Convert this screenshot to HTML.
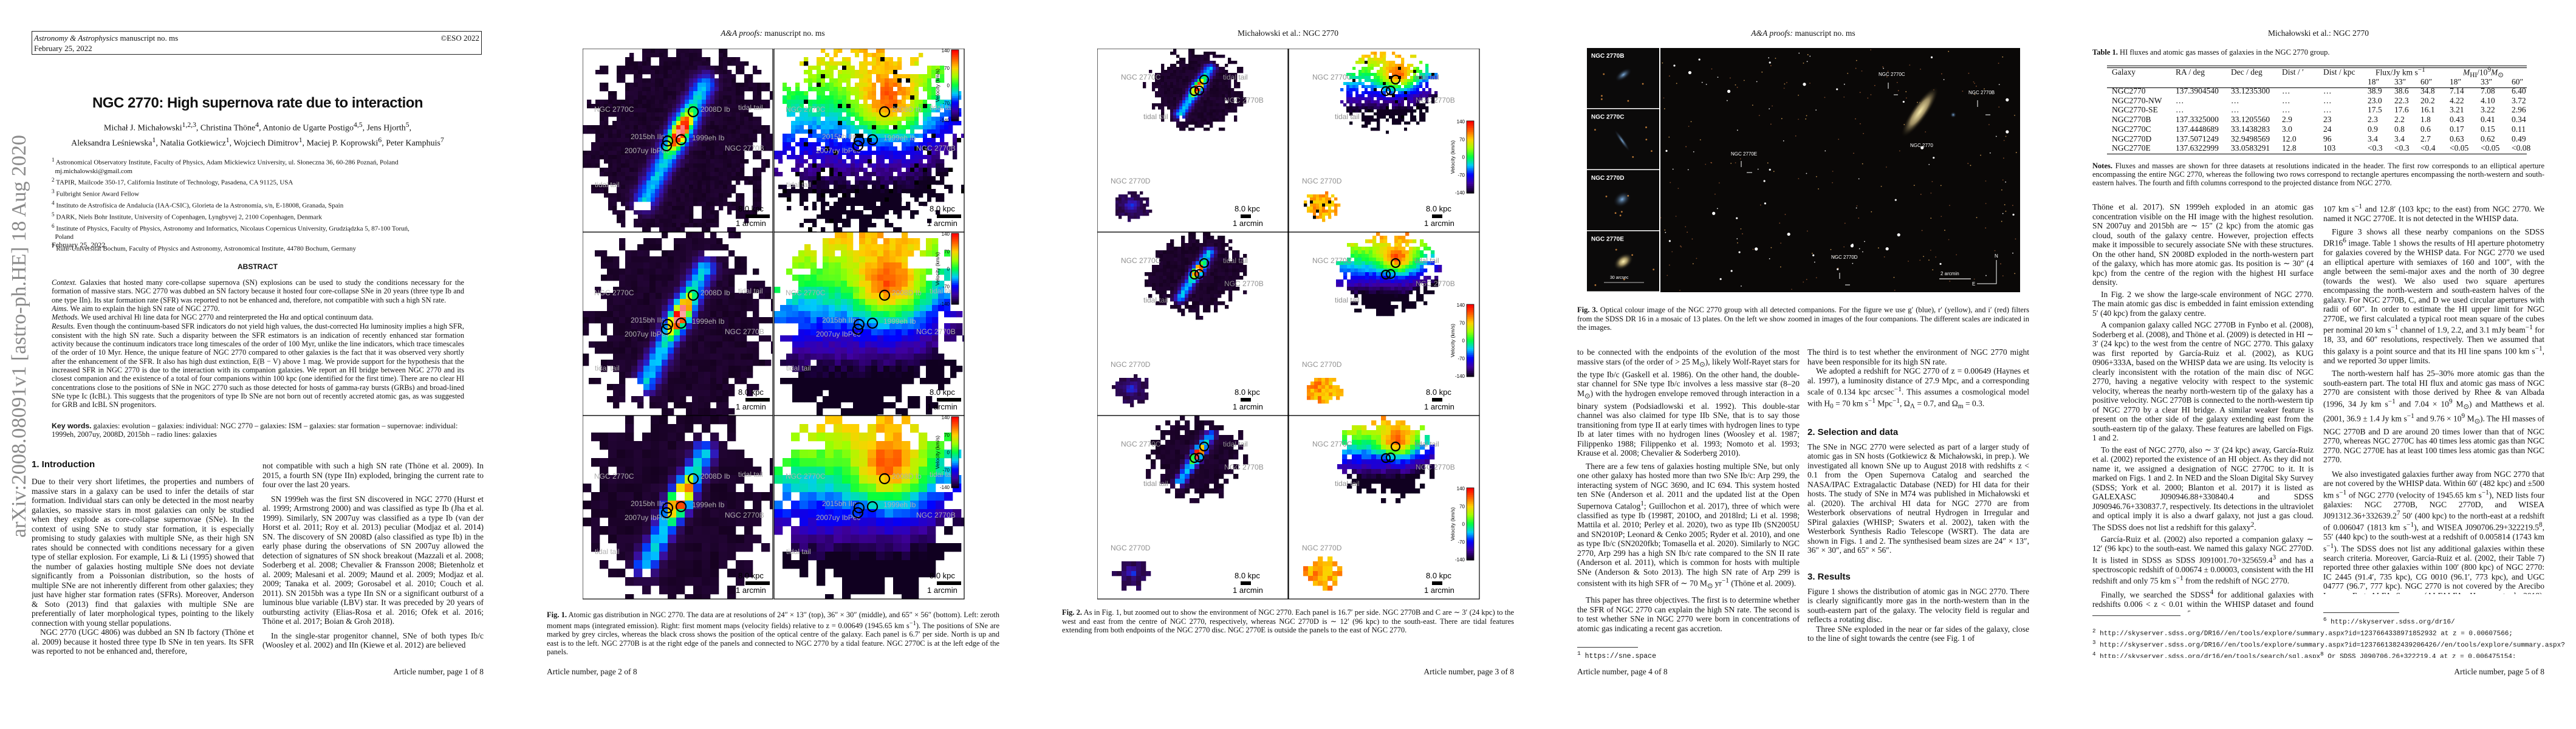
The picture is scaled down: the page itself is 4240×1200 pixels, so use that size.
<!DOCTYPE html>
<html><head><meta charset="utf-8">
<style>
html,body{margin:0;padding:0;background:#fff}
body{width:4240px;height:1200px;position:relative;overflow:hidden;font-family:"Liberation Serif",serif;color:#111}
.a{position:absolute}
.col{position:absolute;font:13.5px/15.5px "Liberation Serif",serif;text-align:justify;overflow:hidden;hyphens:auto}
.col p{margin:0;text-indent:14px}
.col p.ni{text-indent:0}
.col h2{font:bold 15px/20px "Liberation Sans",sans-serif;margin:10px 0 6px 0}
.hdr{position:absolute;font:13.5px "Liberation Serif",serif;top:47px;white-space:nowrap}
.foot{position:absolute;font:13.5px "Liberation Serif",serif;top:1098px;white-space:nowrap}
.cap{position:absolute;font:12.5px/14.5px "Liberation Serif",serif;text-align:justify;overflow:hidden}
svg text{font-family:"Liberation Sans",sans-serif}
</style></head><body>

<!-- PAGE 1 -->
<div class="a" style="left:-262px;top:570px;width:590px;height:40px;transform:rotate(-90deg);font:34px 'Liberation Serif',serif;color:#8a8a8a;white-space:nowrap;text-align:center">arXiv:2008.08091v1 [astro-ph.HE] 18 Aug 2020</div>
<div class="a" style="left:52px;top:51px;width:741px;height:39px;border:1.5px solid #222;font:13px/17px 'Liberation Serif',serif;padding:2px 3px;box-sizing:border-box">
<div><i>Astronomy &amp; Astrophysics</i> manuscript no. ms<span style="float:right">©ESO 2022</span></div><div>February 25, 2022</div></div>
<div class="a" style="left:52px;top:156px;width:744px;text-align:center;font:bold 24px 'Liberation Sans',sans-serif;letter-spacing:-0.5px">NGC 2770: High supernova rate due to interaction</div>
<div class="a" style="left:52px;top:196px;width:744px;text-align:center;font:14px/19px 'Liberation Serif',serif">Michał J. Michałowski<sup>1,2,3</sup>, Christina Thöne<sup>4</sup>, Antonio de Ugarte Postigo<sup>4,5</sup>, Jens Hjorth<sup>5</sup>,<br>Aleksandra Leśniewska<sup>1</sup>, Natalia Gotkiewicz<sup>1</sup>, Wojciech Dimitrov<sup>1</sup>, Maciej P. Koprowski<sup>6</sup>, Peter Kamphuis<sup>7</sup></div>
<div class="a" style="left:85px;top:256px;width:700px;font:11px/14.2px 'Liberation Serif',serif;white-space:nowrap">
<div><sup>1</sup> Astronomical Observatory Institute, Faculty of Physics, Adam Mickiewicz University, ul. Słoneczna 36, 60-286 Poznań, Poland</div>
<div>&nbsp;&nbsp;mj.michalowski@gmail.com</div>
<div><sup>2</sup> TAPIR, Mailcode 350-17, California Institute of Technology, Pasadena, CA 91125, USA</div>
<div><sup>3</sup> Fulbright Senior Award Fellow</div>
<div><sup>4</sup> Instituto de Astrofísica de Andalucía (IAA-CSIC), Glorieta de la Astronomía, s/n, E-18008, Granada, Spain</div>
<div><sup>5</sup> DARK, Niels Bohr Institute, University of Copenhagen, Lyngbyvej 2, 2100 Copenhagen, Denmark</div>
<div><sup>6</sup> Institute of Physics, Faculty of Physics, Astronomy and Informatics, Nicolaus Copernicus University, Grudziądzka 5, 87-100 Toruń,</div>
<div>&nbsp;&nbsp;Poland</div>
<div><sup>7</sup> Ruhr-Universität Bochum, Faculty of Physics and Astronomy, Astronomical Institute, 44780 Bochum, Germany</div>
</div>
<div class="a" style="left:85px;top:396px;font:12px 'Liberation Serif',serif">February 25, 2022</div>
<div class="a" style="left:52px;top:432px;width:744px;text-align:center;font:bold 12px 'Liberation Sans',sans-serif">ABSTRACT</div>
<div class="a" style="left:85px;top:458px;width:679px;height:226px;overflow:hidden;font:12.3px/14.3px 'Liberation Serif',serif;text-align:justify">
<i>Context.</i> Galaxies that hosted many core-collapse supernova (SN) explosions can be used to study the conditions necessary for the formation of massive stars. NGC 2770 was dubbed an SN factory because it hosted four core-collapse SNe in 20 years (three type Ib and one type IIn). Its star formation rate (SFR) was reported to not be enhanced and, therefore, not compatible with such a high SN rate.<br>
<i>Aims.</i> We aim to explain the high SN rate of NGC 2770.<br>
<i>Methods.</i> We used archival H<span style="font-size:9px">I</span> line data for NGC 2770 and reinterpreted the Hα and optical continuum data.<br>
<i>Results.</i> Even though the continuum-based SFR indicators do not yield high values, the dust-corrected Hα luminosity implies a high SFR, consistent with the high SN rate. Such a disparity between the SFR estimators is an indication of recently enhanced star formation activity because the continuum indicators trace long timescales of the order of 100 Myr, unlike the line indicators, which trace timescales of the order of 10 Myr. Hence, the unique feature of NGC 2770 compared to other galaxies is the fact that it was observed very shortly after the enhancement of the SFR. It also has high dust extinction, E(B − V) above 1 mag. We provide support for the hypothesis that the increased SFR in NGC 2770 is due to the interaction with its companion galaxies. We report an HI bridge between NGC 2770 and its closest companion and the existence of a total of four companions within 100 kpc (one identified for the first time). There are no clear HI concentrations close to the positions of SNe in NGC 2770 such as those detected for hosts of gamma-ray bursts (GRBs) and broad-lined SNe type Ic (IcBL). This suggests that the progenitors of type Ib SNe are not born out of recently accreted atomic gas, as was suggested for GRB and IcBL SN progenitors.</div>
<div class="a" style="left:85px;top:694px;width:679px;font:12.3px/14.3px 'Liberation Serif',serif"><b style="font-family:'Liberation Sans',sans-serif">Key words.</b> galaxies: evolution – galaxies: individual: NGC 2770 – galaxies: ISM – galaxies: star formation – supernovae: individual: 1999eh, 2007uy, 2008D, 2015bh – radio lines: galaxies</div>
<div class="a" style="left:52px;top:756px;font:bold 15px 'Liberation Sans',sans-serif">1. Introduction</div>
<div class="col" style="left:52px;top:785px;width:366px;height:294px"><p class="ni">Due to their very short lifetimes, the properties and numbers of massive stars in a galaxy can be used to infer the details of star formation. Individual stars can only be detected in the most nearby galaxies, so massive stars in most galaxies can only be studied when they explode as core-collapse supernovae (SNe). In the context of using SNe to study star formation, it is especially promising to study galaxies with multiple SNe, as their high SN rates should be connected with conditions necessary for a given type of stellar explosion. For example, Li &amp; Li (1995) showed that the number of galaxies hosting multiple SNe does not deviate significantly from a Poissonian distribution, so the hosts of multiple SNe are not inherently different from other galaxies; they just have higher star formation rates (SFRs). Moreover, Anderson &amp; Soto (2013) find that galaxies with multiple SNe are preferentially of later morphological types, pointing to the likely connection with young stellar populations.</p><p>NGC 2770 (UGC 4806) was dubbed an SN Ib factory (Thöne et al. 2009) because it hosted three type Ib SNe in ten years. Its SFR was reported to not be enhanced and, therefore,</p></div>
<div class="col" style="left:432px;top:759px;width:364px;height:320px"><p class="ni">not compatible with such a high SN rate (Thöne et al. 2009). In 2015, a fourth SN (type IIn) exploded, bringing the current rate to four over the last 20 years.</p><p style="margin-top:8px">SN 1999eh was the first SN discovered in NGC 2770 (Hurst et al. 1999; Armstrong 2000) and was classified as type Ib (Jha et al. 1999). Similarly, SN 2007uy was classified as a type Ib (van der Horst et al. 2011; Roy et al. 2013) peculiar (Modjaz et al. 2014) SN. The discovery of SN 2008D (also classified as type Ib) in the early phase during the observations of SN 2007uy allowed the detection of signatures of SN shock breakout (Mazzali et al. 2008; Soderberg et al. 2008; Chevalier &amp; Fransson 2008; Bietenholz et al. 2009; Malesani et al. 2009; Maund et al. 2009; Modjaz et al. 2009; Tanaka et al. 2009; Gorosabel et al. 2010; Couch et al. 2011). SN 2015bh was a type IIn SN or a significant outburst of a luminous blue variable (LBV) star. It was preceded by 20 years of outbursting activity (Elias-Rosa et al. 2016; Ofek et al. 2016; Thöne et al. 2017; Boian &amp; Groh 2018).</p><p style="margin-top:8px">In the single-star progenitor channel, SNe of both types Ib/c (Woosley et al. 2002) and IIn (Kiewe et al. 2012) are believed</p></div>
<div class="foot" style="left:596px;width:200px;text-align:right">Article number, page 1 of 8</div>

<!-- PAGE 2 -->
<div class="hdr" style="left:1072px;width:400px;text-align:center"><i>A&amp;A proofs:</i> manuscript no. ms</div>
<svg class="a" id="fig1" style="left:959px;top:80px" width="629" height="908"></svg>
<div class="cap" style="left:900px;top:1005px;width:745px;height:76px"><b>Fig. 1.</b> Atomic gas distribution in NGC 2770. The data are at resolutions of 24″ × 13″ (top), 36″ × 30″ (middle), and 65″ × 56″ (bottom). Left: zeroth moment maps (integrated emission). Right: first moment maps (velocity fields) relative to z = 0.00649 (1945.65 km s<sup>−1</sup>). The positions of SNe are marked by grey circles, whereas the black cross shows the position of the optical centre of the galaxy. Each panel is 6.7′ per side. North is up and east is to the left. NGC 2770B is at the right edge of the panels and connected to NGC 2770 by a tidal feature. NGC 2770C is at the left edge of the panels.</div>
<div class="foot" style="left:900px">Article number, page 2 of 8</div>

<!-- PAGE 3 -->
<div class="hdr" style="left:1920px;width:400px;text-align:center">Michałowski et al.: NGC 2770</div>
<svg class="a" id="fig2" style="left:1806px;top:80px" width="630" height="908"></svg>
<div class="cap" style="left:1748px;top:1001px;width:744px;height:48px"><b>Fig. 2.</b> As in Fig. 1, but zoomed out to show the environment of NGC 2770. Each panel is 16.7′ per side. NGC 2770B and C are ∼ 3′ (24 kpc) to the west and east from the centre of NGC 2770, respectively, whereas NGC 2770D is ∼ 12′ (96 kpc) to the south-east. There are tidal features extending from both endpoints of the NGC 2770 disc. NGC 2770E is outside the panels to the east of NGC 2770.</div>
<div class="foot" style="left:2292px;width:200px;text-align:right">Article number, page 3 of 8</div>

<!-- PAGE 4 -->
<div class="hdr" style="left:2768px;width:400px;text-align:center"><i>A&amp;A proofs:</i> manuscript no. ms</div>
<svg class="a" id="fig3" style="left:2612px;top:79px" width="713" height="402"></svg>
<div class="cap" style="left:2596px;top:503px;width:744px;height:46px"><b>Fig. 3.</b> Optical colour image of the NGC 2770 group with all detected companions. For the figure we use g′ (blue), r′ (yellow), and i′ (red) filters from the SDSS DR 16 in a mosaic of 13 plates. On the left we show zoomed in images of the four companions. The different scales are indicated in the images.</div>
<div class="col" style="left:2596px;top:572px;width:366px;height:478px"><p class="ni">to be connected with the endpoints of the evolution of the most massive stars (of the order of &gt; 25 M<sub>⊙</sub>), likely Wolf-Rayet stars for the type Ib/c (Gaskell et al. 1986). On the other hand, the double-star channel for SNe type Ib/c involves a less massive star (8–20 M<sub>⊙</sub>) with the hydrogen envelope removed through interaction in a binary system (Podsiadlowski et al. 1992). This double-star channel was also claimed for type IIb SNe, that is to say those transitioning from type II at early times with hydrogen lines to type Ib at later times with no hydrogen lines (Woosley et al. 1987; Filippenko 1988; Filippenko et al. 1993; Nomoto et al. 1993; Krause et al. 2008; Chevalier &amp; Soderberg 2010).</p><p style="margin-top:6px">There are a few tens of galaxies hosting multiple SNe, but only one other galaxy has hosted more than two SNe Ib/c: Arp 299, the interacting system of NGC 3690, and IC 694. This system hosted ten SNe (Anderson et al. 2011 and the updated list at the Open Supernova Catalog<sup>1</sup>; Guillochon et al. 2017), three of which were classified as type Ib (1998T, 2010O, and 2018lrd; Li et al. 1998; Mattila et al. 2010; Perley et al. 2020), two as type IIb (SN2005U and SN2010P; Leonard &amp; Cenko 2005; Ryder et al. 2010), and one as type Ib/c (SN2020fkb; Tomasella et al. 2020). Similarly to NGC 2770, Arp 299 has a high SN Ib/c rate compared to the SN II rate (Anderson et al. 2011), which is common for hosts with multiple SNe (Anderson &amp; Soto 2013). The high SN rate of Arp 299 is consistent with its high SFR of ∼ 70 M<sub>⊙</sub> yr<sup>−1</sup> (Thöne et al. 2009).</p><p style="margin-top:6px">This paper has three objectives. The first is to determine whether the SFR of NGC 2770 can explain the high SN rate. The second is to test whether SNe in NGC 2770 were born in concentrations of atomic gas indicating a recent gas accretion.</p></div>
<div class="a" style="left:2596px;top:1065px;width:100px;border-top:1px solid #333"></div>
<div class="a" style="left:2596px;top:1070px;font:11.5px 'Liberation Mono',monospace"><sup>1</sup> https://sne.space</div>
<div class="col" style="left:2975px;top:572px;width:365px;height:508px"><p class="ni">The third is to test whether the environment of NGC 2770 might have been responsible for its high SN rate.</p><p>We adopted a redshift for NGC 2770 of z = 0.00649 (Haynes et al. 1997), a luminosity distance of 27.9 Mpc, and a corresponding scale of 0.134 kpc arcsec<sup>−1</sup>. This assumes a cosmological model with H<sub>0</sub> = 70 km s<sup>−1</sup> Mpc<sup>−1</sup>, Ω<sub>Λ</sub> = 0.7, and Ω<sub>m</sub> = 0.3.</p><h2 style="margin-top:24px">2. Selection and data</h2><p class="ni">The SNe in NGC 2770 were selected as part of a larger study of atomic gas in SN hosts (Gotkiewicz &amp; Michałowski, in prep.). We investigated all known SNe up to August 2018 with redshifts z &lt; 0.1 from the Open Supernova Catalog and searched the NASA/IPAC Extragalactic Database (NED) for HI data for their hosts. The study of SNe in M74 was published in Michałowski et al. (2020). The archival HI data for NGC 2770 are from Westerbork observations of neutral Hydrogen in Irregular and SPiral galaxies (WHISP; Swaters et al. 2002), taken with the Westerbork Synthesis Radio Telescope (WSRT). The data are shown in Figs. 1 and 2. The synthesised beam sizes are 24″ × 13″, 36″ × 30″, and 65″ × 56″.</p><h2 style="margin-top:26px">3. Results</h2><p class="ni">Figure 1 shows the distribution of atomic gas in NGC 2770. There is clearly significantly more gas in the north-western than in the south-eastern part of the galaxy. The velocity field is regular and reflects a rotating disc.</p><p>Three SNe exploded in the near or far sides of the galaxy, close to the line of sight towards the centre (see Fig. 1 of</p></div>
<div class="foot" style="left:2596px">Article number, page 4 of 8</div>

<!-- PAGE 5 -->
<div class="hdr" style="left:3616px;width:400px;text-align:center">Michałowski et al.: NGC 2770</div>
<div class="a" style="left:3444px;top:79px;font:12.5px 'Liberation Serif',serif"><b>Table 1.</b> HI fluxes and atomic gas masses of galaxies in the NGC 2770 group.</div>
<div class="a" id="tbl" style="left:3468px;top:108px;width:691px;height:147px;font:13.5px 'Liberation Serif',serif"></div>
<div class="cap" style="left:3444px;top:266px;width:744px;height:44px;line-height:14px"><b>Notes.</b> Fluxes and masses are shown for three datasets at resolutions indicated in the header. The first row corresponds to an elliptical aperture encompassing the entire NGC 2770, whereas the following two rows correspond to rectangle apertures encompassing the north-western and south-eastern halves. The fourth and fifth columns correspond to the projected distance from NGC 2770.</div>
<div class="col" style="left:3444px;top:333px;width:364px;height:675px"><p class="ni">Thöne et al. 2017). SN 1999eh exploded in an atomic gas concentration visible on the HI image with the highest resolution. SN 2007uy and 2015bh are ∼ 15″ (2 kpc) from the atomic gas cloud, south of the galaxy centre. However, projection effects make it impossible to securely associate SNe with these structures. On the other hand, SN 2008D exploded in the north-western part of the galaxy, which has more atomic gas. Its position is ∼ 30″ (4 kpc) from the centre of the region with the highest HI surface density.</p><p style="margin-top:4px">In Fig. 2 we show the large-scale environment of NGC 2770. The main atomic gas disc is embedded in faint emission extending 5′ (40 kpc) from the galaxy centre.</p><p style="margin-top:4px">A companion galaxy called NGC 2770B in Fynbo et al. (2008), Soderberg et al. (2008), and Thöne et al. (2009) is detected in HI ∼ 3′ (24 kpc) to the west from the centre of NGC 2770. This galaxy was first reported by García-Ruiz et al. (2002), as KUG 0906+333A, based on the WHISP data we are using. Its velocity is clearly inconsistent with the rotation of the main disc of NGC 2770, having a negative velocity with respect to the systemic velocity, whereas the nearby north-western tip of the galaxy has a positive velocity. NGC 2770B is connected to the north-western tip of NGC 2770 by a clear HI bridge. A similar weaker feature is present on the other side of the galaxy extending east from the south-eastern tip of the galaxy. These features are labelled on Figs. 1 and 2.</p><p style="margin-top:4px">To the east of NGC 2770, also ∼ 3′ (24 kpc) away, García-Ruiz et al. (2002) reported the existence of an HI object. As they did not name it, we assigned a designation of NGC 2770C to it. It is marked on Figs. 1 and 2. In NED and the Sloan Digital Sky Survey (SDSS; York et al. 2000; Blanton et al. 2017) it is listed as GALEXASC J090946.88+330840.4 and SDSS J090946.76+330837.7, respectively. Its detections in the ultraviolet and optical imply it is also a dwarf galaxy, not just a gas cloud. The SDSS does not list a redshift for this galaxy<sup>2</sup>.</p><p style="margin-top:4px">García-Ruiz et al. (2002) also reported a companion galaxy ∼ 12′ (96 kpc) to the south-east. We named this galaxy NGC 2770D. It is listed in SDSS as SDSS J091001.70+325659.4<sup>3</sup> and has a spectroscopic redshift of 0.00674 ± 0.00003, consistent with the HI redshift and only 75 km s<sup>−1</sup> from the redshift of NGC 2770.</p><p style="margin-top:4px">Finally, we searched the SDSS<sup>4</sup> for additional galaxies with redshifts 0.006 &lt; z &lt; 0.01 within the WHISP dataset and found SDSS J091031.75+330329.9<sup>5</sup> at z = 0.00684829. It is</p></div>
<div class="col" style="left:3824px;top:333px;width:364px;height:645px"><p class="ni">107 km s<sup>−1</sup> and 12.8′ (103 kpc; to the east) from NGC 2770. We named it NGC 2770E. It is not detected in the WHISP data.</p><p style="margin-top:6px">Figure 3 shows all these nearby companions on the SDSS DR16<sup>6</sup> image. Table 1 shows the results of HI aperture photometry for galaxies covered by the WHISP data. For NGC 2770 we used an elliptical aperture with semiaxes of 160 and 100″, with the angle between the semi-major axes and the north of 30 degree (towards the west). We also used two square apertures encompassing the north-western and south-eastern halves of the galaxy. For NGC 2770B, C, and D we used circular apertures with radii of 60″. In order to estimate the HI upper limit for NGC 2770E, we first calculated a typical root mean square of the cubes per nominal 20 km s<sup>−1</sup> channel of 1.9, 2.2, and 3.1 mJy beam<sup>−1</sup> for 18, 33, and 60″ resolutions, respectively. Then we assumed that this galaxy is a point source and that its HI line spans 100 km s<sup>−1</sup>, and we reported 3σ upper limits.</p><p style="margin-top:6px">The north-western half has 25–30% more atomic gas than the south-eastern part. The total HI flux and atomic gas mass of NGC 2770 are consistent with those derived by Rhee &amp; van Albada (1996, 34 Jy km s<sup>−1</sup> and 7.04 × 10<sup>9</sup> M<sub>⊙</sub>) and Matthews et al. (2001, 36.9 ± 1.4 Jy km s<sup>−1</sup> and 9.76 × 10<sup>9</sup> M<sub>⊙</sub>). The HI masses of NGC 2770B and D are around 20 times lower than that of NGC 2770, whereas NGC 2770C has 40 times less atomic gas than NGC 2770. NGC 2770E has at least 100 times less atomic gas than NGC 2770.</p><p style="margin-top:8px">We also investigated galaxies further away from NGC 2770 that are not covered by the WHISP data. Within 60′ (482 kpc) and ±500 km s<sup>−1</sup> of NGC 2770 (velocity of 1945.65 km s<sup>−1</sup>), NED lists four galaxies: NGC 2770B, NGC 2770D, and WISEA J091312.36+332639.2<sup>7</sup> 50′ (400 kpc) to the north-east at a redshift of 0.006047 (1813 km s<sup>−1</sup>), and WISEA J090706.29+322219.5<sup>8</sup>, 55′ (440 kpc) to the south-west at a redshift of 0.005814 (1743 km s<sup>−1</sup>). The SDSS does not list any additional galaxies within these search criteria. Moreover, García-Ruiz et al. (2002, their Table 7) reported three other galaxies within 100′ (800 kpc) of NGC 2770: IC 2445 (91.4′, 735 kpc), CG 0010 (96.1′, 773 kpc), and UGC 04777 (96.7′, 777 kpc). NGC 2770 is not covered by the Arecibo Legacy Fast ALFA Survey (ALFALFA; Haynes et al. 2018), prohibiting a systematic HI search of companions.</p></div>
<div class="a" style="left:3444px;top:1013px;width:145px;border-top:1px solid #333"></div>
<div class="a" style="left:3824px;top:1008px;width:125px;border-top:1px solid #333"></div>
<div class="a" style="left:3444px;top:1013px;width:800px;font:11px/14.2px 'Liberation Mono',monospace;white-space:nowrap;overflow:hidden;height:70px">
<div style="padding-left:380px"><sup>6</sup> http://skyserver.sdss.org/dr16/</div>
<div><sup>2</sup> http://skyserver.sdss.org/DR16//en/tools/explore/summary.aspx?id=1237664338971852932 at z = 0.00607566;</div>
<div><sup>3</sup> http://skyserver.sdss.org/DR16//en/tools/explore/summary.aspx?id=1237661382439206426//en/tools/explore/summary.aspx?</div>
<div><sup>4</sup> http://skyserver.sdss.org/dr16/en/tools/search/sql.aspx<sup>8</sup> Or SDSS J090706.26+322219.4 at z = 0.006475154;</div>
<div><sup>5</sup> http://skyserver.sdss.org/DR16//en/tools/explore/summary.aspx?id=1237664868921163956//en/tools/explore/summary.aspx?</div>
</div>
<div class="foot" style="left:3988px;width:200px;text-align:right">Article number, page 5 of 8</div>

<script>
var SVGNS='http://www.w3.org/2000/svg';
var galaxies=['NGC2770','NGC2770-NW','NGC2770-SE','NGC2770B','NGC2770C','NGC2770D','NGC2770E'];
var raVals=['137.3904540','…','…','137.3325000','137.4448689','137.5071249','137.6322999'];
var decVals=['33.1235300','…','…','33.1205560','33.1438283','32.9498569','33.0583291'];
var distArc=['…','…','…','2.9','3.0','12.0','12.8'];
var distKpc=['…','…','…','23','24','96','103'];
var flux18=['38.9','23.0','17.5','2.3','0.9','3.4','&lt;0.3'];
var flux33=['38.6','22.3','17.6','2.2','0.8','3.4','&lt;0.3'];
var flux60=['34.8','20.2','16.1','1.8','0.6','2.7','&lt;0.4'];
var mass18=['7.14','4.22','3.21','0.43','0.17','0.63','&lt;0.05'];
var mass33=['7.08','4.10','3.22','0.41','0.15','0.62','&lt;0.05'];
var mass60=['6.40','3.72','2.96','0.34','0.11','0.49','&lt;0.08'];
var velTicks=['140','70','0','-70','-140'];

function hn(i,j,s){var x=Math.sin(i*127.1+j*311.7+s*74.7)*43758.5453;return x-Math.floor(x);}
function hexC(hs){return [parseInt(hs.substr(1,2),16),parseInt(hs.substr(3,2),16),parseInt(hs.substr(5,2),16)];}
function lerpC(stops,t){
  if(!(t>=0))t=0; if(t>1)t=1;
  for(var k=1;k<stops.length;k++){
    if(t<=stops[k][0]){var a=stops[k-1],b=stops[k];var f=(t-a[0])/(b[0]-a[0]);var ca=hexC(a[1]),cb=hexC(b[1]);
      return 'rgb('+Math.round(ca[0]+(cb[0]-ca[0])*f)+','+Math.round(ca[1]+(cb[1]-ca[1])*f)+','+Math.round(ca[2]+(cb[2]-ca[2])*f)+')';}
  }
  return stops[stops.length-1][1];
}
var cmapI=[[0,'#12001a'],[0.12,'#28063e'],[0.28,'#3a10a8'],[0.42,'#0040ff'],[0.55,'#00c8ff'],[0.66,'#00ff50'],[0.76,'#f0ff00'],[0.86,'#ff6000'],[0.94,'#ff0000'],[1,'#ffffff']];
var cmapV=[[0,'#100020'],[0.125,'#4000a0'],[0.25,'#0000ff'],[0.375,'#00c8ff'],[0.5,'#00ff40'],[0.625,'#a0ff00'],[0.75,'#ffd000'],[0.875,'#ff6000'],[1,'#ff0000']];
function mk(tag,attrs,parent){var e=document.createElementNS(SVGNS,tag);for(var k in attrs){e.setAttribute(k,attrs[k]);}parent.appendChild(e);return e;}
function tx(parent,x,y,s,size,fill,extra){var at={x:x,y:y,'font-size':size,fill:fill};if(extra){for(var k in extra)at[k]=extra[k];}var t=mk('text',at,parent);t.textContent=s;return t;}

function drawMap(g,W,H,cell,kind,blobs,speckle,seed){
  var nx=Math.ceil(W/cell),ny=Math.ceil(H/cell);
  for(var j=0;j<ny;j++){for(var i=0;i<nx;i++){
    var u=(i+0.5)*cell/W,v=(j+0.5)*cell/H,best=null;
    for(var q=0;q<blobs.length;q++){
      var bl=blobs[q];
      var up0=(u-bl.cx)/bl.sx+0.5,vp0=(v-bl.cy)/bl.sy+0.5;
      var E=Math.pow((up0-0.5)/0.5,2)+Math.pow((vp0-0.5)/0.55,2);
      var nm=hn(Math.floor(u*W/bl.block),Math.floor(v*H/bl.block),seed+bl.sid);
      var keep=E<0.45||(E<1.25&&nm>(E-0.45)/0.8*0.95);
      if(keep)best={b:bl,up:up0,vp:vp0};
    }
    if(!best)continue;
    var n=hn(i,j,seed*3+7),b=best.b,up=best.up,vp=best.vp,col;
    if(kind==='I'){
      var I;
      if(b.dwarf){I=0.1+0.08*n+0.25*Math.exp(-(Math.pow(up-0.5,2)+Math.pow(vp-0.45,2))/0.03);}
      else{
        var P1x=0.64,P1y=0.2,dx=0.33-0.64,dy=0.82-0.2,L2=dx*dx+dy*dy;
        var t=((up-P1x)*dx+(vp-P1y)*dy)/L2;var px=P1x+t*dx,py=P1y+t*dy;
        var d=Math.sqrt((up-px)*(up-px)+(vp-py)*(vp-py));
        var taper=t<0?Math.exp(-Math.pow(t/0.1,2)):(t>1?Math.exp(-Math.pow((t-1)/0.1,2)):1);
        var peak=0.5+0.45*Math.exp(-Math.pow(t-0.4,2)/(2*0.12*0.12));
        I=0.02+0.07*n+peak*Math.exp(-d*d/(2*0.045*0.045))*taper;
      }
      col=lerpC(cmapI,I);
    }else{
      var vel;
      if(b.dwarf){vel=0.55+0.3*(n-0.3);}
      else{vel=0.8*Math.exp(-(Math.pow(up-0.6,2)+Math.pow(vp-0.3,2))/(2*0.12*0.12))-2.0*(vp-0.4)-0.25-1.2*Math.max(0,up-0.72)+0.15*(n-0.5);}
      col=lerpC(cmapV,(vel+1)/2);
      if(speckle){if(n>0.86)col='#ffffff';else if(n>0.82)col='#000000';}
    }
    var r=mk('rect',{x:i*cell,y:j*cell,width:cell+0.3,height:cell+0.3,fill:col},g);
    
    
  }}
}
function colorbar(g,x,y,hh){
  var gr=mk('g',{},g);
  
  
  for(var k=0;k<40;k++)mk('rect',{x:x,y:y+k*hh/40,width:12,height:hh/40+0.5,fill:lerpC(cmapV,1-k/39)},gr);
  mk('rect',{x:x,y:y,width:12,height:hh,fill:'none',stroke:'#000','stroke-width':0.8},gr);
  for(var m=0;m<velTicks.length;m++)tx(gr,x-3,y+4+m*hh/4*0.985,velTicks[m],8,'#000',{'text-anchor':'end'});
  tx(gr,x-20,y+hh/2,'Velocity (km/s)',8.5,'#000',{'text-anchor':'middle',transform:'rotate(-90 '+(x-20)+' '+(y+hh/2)+')'});
}
function circles(g,pts){for(var k=0;k<pts.length;k++){var p=pts[k];var c=mk('circle',{cx:p[0],cy:p[1],r:p[2]||8,fill:'none',stroke:'#000','stroke-width':2.2},g);}}

// Figure 1
try{
var fig1=document.getElementById('fig1');
var PW=313,PH=302;
var f1cells=[7,10,14];
var blob1={sid:1,dwarf:false,cx:0.5,cy:0.5,sx:1,sy:1,block:14};
var f1labels=[['NGC 2770C',19,104],['2008D Ib',194,104],['tidal tail',256,101],['2015bh IIn',79,149],['1999eh Ib',180,151],['2007uy IbPec',69,172],['NGC 2770B',234,168],['tidal tail',20,228]];
for(var r1=0;r1<3;r1++)for(var c1=0;c1<2;c1++){
  var g1=mk('g',{transform:'translate('+(c1*PW+(c1?2:0))+','+(r1*PH)+')'},fig1);
  
  
  var inner=mk('svg',{x:0,y:0,width:PW,height:PH},g1);
  drawMap(inner,PW,PH,f1cells[r1],c1?'V':'I',[blob1],c1===1&&r1===0,r1*10+c1+1);
  for(var L=0;L<f1labels.length;L++){var lb=f1labels[L];tx(g1,lb[1],lb[2],lb[0],12,'#b0b0b0');}
  circles(g1,[[182,104],[140,152],[138,160],[162,150]]);
  tx(g1,256,268,'8.0 kpc',13,'#000');
  mk('rect',{x:268,y:273,width:40,height:6,fill:'#000'},g1);
  tx(g1,252,292,'1 arcmin',13,'#000');
  if(c1)colorbar(g1,292,2,117);
  mk('rect',{x:0,y:0,width:PW,height:PH,fill:'none',stroke:'#000','stroke-width':1.2},g1);
}
}catch(e){}

// Figure 2
try{
var fig2=document.getElementById('fig2');
var f2cells=[5,6,8];
var blob2={sid:2,dwarf:false,cx:0.52,cy:0.23,sx:0.5,sy:0.4,block:8};
var blobD={sid:3,dwarf:true,cx:0.18,cy:0.86,sx:0.19,sy:0.15,block:6};
var f2labels=[['NGC 2770C',39,51],['tidal tail',207,51],['NGC 2770B',209,89],['tidal tail',76,116],['NGC 2770D',22,222]];
for(var r2=0;r2<3;r2++)for(var c2=0;c2<2;c2++){
  var g2=mk('g',{transform:'translate('+(c2*314+(c2?1:0))+','+(r2*302)+')'},fig2);
  
  
  drawMap(g2,314,302,f2cells[r2],c2?'V':'I',[blob2,blobD],c2===1&&r2===0,r2*10+c2+21);
  for(var L2i=0;L2i<f2labels.length;L2i++){var lb2=f2labels[L2i];tx(g2,lb2[1],lb2[2],lb2[0],12,'#909090');}
  circles(g2,[[176,51,7],[160,70,7],[168,69,7]]);
  tx(g2,226,268,'8.0 kpc',13,'#000');
  mk('rect',{x:236,y:273,width:17,height:6,fill:'#000'},g2);
  tx(g2,223,292,'1 arcmin',13,'#000');
  if(c2)colorbar(g2,293,119,119);
  mk('rect',{x:0,y:0,width:314,height:302,fill:'none',stroke:'#000','stroke-width':1.2},g2);
}
}catch(e){}

// Figure 3 optical image
try{
var fig3=document.getElementById('fig3');
var defs=mk('defs',{},fig3);
var rg=mk('radialGradient',{id:'gal'},defs);mk('stop',{offset:'0','stop-color':'#f6e8a8'},rg);mk('stop',{offset:'0.5','stop-color':'#9a8a60'},rg);mk('stop',{offset:'1','stop-color':'#141008','stop-opacity':0},rg);
var rb=mk('radialGradient',{id:'blu'},defs);mk('stop',{offset:'0','stop-color':'#7fb0e0'},rb);mk('stop',{offset:'1','stop-color':'#0a0a10','stop-opacity':0},rb);
var ry=mk('radialGradient',{id:'yel'},defs);mk('stop',{offset:'0','stop-color':'#fff2b0'},ry);mk('stop',{offset:'0.4','stop-color':'#a09060'},ry);mk('stop',{offset:'1','stop-color':'#0a0a08','stop-opacity':0},ry);
var field=mk('g',{},fig3);


mk('rect',{x:121,y:0,width:592,height:402,fill:'#0a0807'},field);
for(var k=0;k<260;k++){var sx=121+hn(k,1,3)*590,sy=hn(k,2,5)*400,m=hn(k,3,9);var sc=m>0.7?'#ffffff':(m>0.45?'#e8b060':'#c07040');mk('circle',{cx:sx,cy:sy,r:m>0.95?2.6:(m>0.85?1.6:0.9),fill:sc,opacity:0.55+0.45*m},field);}
mk('ellipse',{cx:548,cy:105,rx:50,ry:13,fill:'url(#gal)',transform:'rotate(-55 548 105)'},field);
mk('circle',{cx:603,cy:110,r:5,fill:'url(#blu)'},field);
var f3lab=[['NGC 2770C',480,46],['NGC 2770B',628,76],['NGC 2770',532,163],['NGC 2770E',237,177],['NGC 2770D',402,347],['2 arcmin',582,374]];
for(var q3=0;q3<f3lab.length;q3++)tx(field,f3lab[q3][1],f3lab[q3][2],f3lab[q3][0],8,'#fff');
var ticksF3=[[496,57,496,67],[505,77,512,77],[643,86,643,97],[656,110,664,110],[254,186,254,196],[263,205,272,205],[416,370,416,380],[425,390,433,390]];
for(var q4=0;q4<ticksF3.length;q4++){var a=ticksF3[q4];mk('line',{x1:a[0],y1:a[1],x2:a[2],y2:a[3],stroke:'#fff','stroke-width':1},field);}
mk('line',{x1:580,y1:380,x2:632,y2:380,stroke:'#ccc','stroke-width':1.5},field);
mk('polyline',{points:'674,349 674,388 642,388',fill:'none',stroke:'#fff','stroke-width':1},field);
tx(field,671,345,'N',8,'#fff');tx(field,634,391,'E',8,'#fff');
var strips=[['NGC 2770B','url(#blu)',60,44,16,8],['NGC 2770C','url(#blu)',58,52,4,22],['NGC 2770D','url(#blu)',58,48,16,12],['NGC 2770E','url(#yel)',60,50,18,12]];
for(var s5=0;s5<strips.length;s5++){var st=strips[s5];var gs=mk('g',{transform:'translate(0,'+(s5*100.5)+')'},fig3);
  
  
  mk('rect',{x:0,y:0,width:119,height:99,fill:'#0b0a0a'},gs);
  mk('ellipse',{cx:st[2],cy:st[3],rx:st[4],ry:st[5],fill:st[1],transform:'rotate(-35 '+st[2]+' '+st[3]+')'},gs);
  for(var mm=0;mm<5;mm++)mk('circle',{cx:10+hn(s5,mm,11)*100,cy:30+hn(mm,s5,13)*65,r:1.4,fill:'#e09040',opacity:0.8},gs);
  tx(gs,7,16,st[0],10,'#fff',{'font-weight':'bold'});}
tx(fig3,38,380,'30 arcsec',7,'#fff');mk('line',{x1:28,y1:386,x2:94,y2:386,stroke:'#bbb'},fig3);
}catch(e){}

// Table 1
try{
var tbl=document.getElementById('tbl');
var colX=[8,113,204,288,356,429,473,516,564,615,666];
var tHead=['Galaxy','RA / deg','Dec / deg','Dist / ′','Dist / kpc'];
var html='<div style="position:absolute;left:0;top:0;width:691px;border-top:1px solid #000;height:2px;border-bottom:1px solid #000"></div>';
function put(s,x,y){return '<div style="position:absolute;left:'+x+'px;top:'+y+'px;white-space:nowrap">'+s+'</div>';}
for(var hI=0;hI<tHead.length;hI++)html+=put(tHead[hI],colX[hI],3);
html+=put('Flux/Jy km s<sup>−1</sup>',442,1)+put('<i>M</i><sub>HI</sub>/10<sup>9</sup><i>M</i><sub>⊙</sub>',586,1);
var res=['18″','33″','60″','18″','33″','60″'];
for(var rI=0;rI<res.length;rI++)html+=put(res[rI],colX[5+rI],19);
html+='<div style="position:absolute;left:0;top:36px;width:691px;border-top:1px solid #000"></div>';
for(var gI=0;gI<galaxies.length;gI++){var yy=34+gI*15.7;var cells=[galaxies[gI],raVals[gI],decVals[gI],distArc[gI],distKpc[gI],flux18[gI],flux33[gI],flux60[gI],mass18[gI],mass33[gI],mass60[gI]];for(var cI=0;cI<cells.length;cI++)html+=put(cells[cI],colX[cI],yy);}
html+='<div style="position:absolute;left:0;top:145px;width:691px;border-top:1px solid #000"></div>';
tbl.innerHTML=html;
}catch(e){}
</script>
</body></html>
